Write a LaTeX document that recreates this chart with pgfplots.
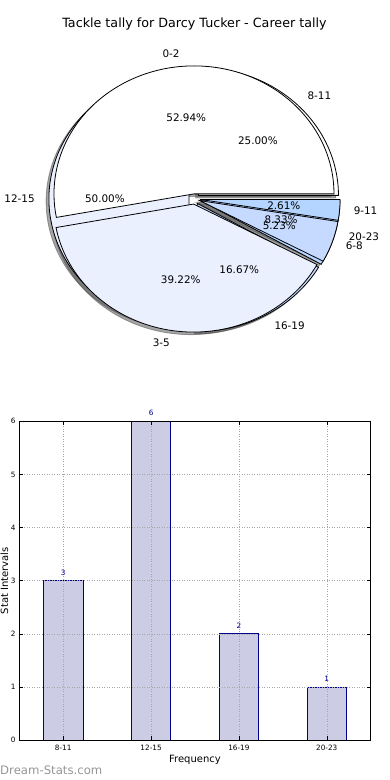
\documentclass[border=0pt]{standalone}
\usepackage{fontspec}
\setmainfont{DejaVu Sans}
\usepackage{pgfplots}
\pgfplotsset{compat=1.18}

\definecolor{cwhite}{RGB}{255,255,255}
\definecolor{cpale}{RGB}{235,240,255}
\definecolor{cmid}{RGB}{198,218,255}
\definecolor{clight}{RGB}{180,213,255}
\definecolor{shadowc}{RGB}{77,77,77}
\definecolor{barfill}{RGB}{204,204,229}
\definecolor{baredge}{RGB}{0,0,139}
\definecolor{wm}{RGB}{150,150,150}

% pie 1 (0-2, 3-5, 6-8, 9-11) percentages
\def\pA{52.94}\def\pB{39.22}\def\pC{5.23}\def\pD{2.61}
% pie 2 (8-11, 12-15, 16-19, 20-23) percentages
\def\qA{25.00}\def\qB{50.00}\def\qC{16.67}\def\qD{8.33}
\pgfmathsetmacro\pAB{\pA+\pB}\pgfmathsetmacro\pABC{\pA+\pB+\pC}
\pgfmathsetmacro\qAB{\qA+\qB}\pgfmathsetmacro\qABC{\qA+\qB+\qC}

\newcommand\pielabelfont{\fontsize{10.4}{12}\selectfont}
% #1 start %, #2 end %, #3 explode
\newcommand\pieshadow[3]{%
  \filldraw[fill=shadowc, draw=shadowc, fill opacity=0.5, draw opacity=0.5, line width=0.8pt]
    ({#3*cos(1.8*(#1+#2))-0.02},{#3*sin(1.8*(#1+#2))-0.02})
    -- ++({140pt*cos(3.6*#1)},{128pt*sin(3.6*#1)})
    arc[start angle={3.6*#1}, end angle={3.6*#2}, x radius=140pt, y radius=128pt] -- cycle;}
% #1 start %, #2 end %, #3 explode, #4 colour
\newcommand\piewedge[4]{%
  \filldraw[fill=#4, draw=black, line width=0.8pt, line join=miter]
    ({#3*cos(1.8*(#1+#2))},{#3*sin(1.8*(#1+#2))})
    -- ++({140pt*cos(3.6*#1)},{128pt*sin(3.6*#1)})
    arc[start angle={3.6*#1}, end angle={3.6*#2}, x radius=140pt, y radius=128pt] -- cycle;}
% #1 start, #2 end, #3 explode, #4 anchor, #5 text
\newcommand\pielabel[5]{%
  \node[anchor=#4, font=\pielabelfont, inner sep=0pt]
    at ({(#3+1.1)*cos(1.8*(#1+#2))},{(#3+1.1)*sin(1.8*(#1+#2))}) {#5};}
% #1 start, #2 end, #3 explode, #4 text
\newcommand\piepct[4]{%
  \node[anchor=center, font=\pielabelfont, inner sep=0pt]
    at ({(#3+0.6)*cos(1.8*(#1+#2))},{(#3+0.6)*sin(1.8*(#1+#2))}) {#4};}

\begin{document}
\begin{tikzpicture}
\path[use as bounding box] (0,0) rectangle (390pt,780pt);

\begin{axis}[at={(194.5pt,581pt)}, anchor=center, scale only axis,
  width=280pt, height=256pt, xmin=-1, xmax=1, ymin=-1, ymax=1,
  hide axis, clip=false,
  title={Tackle tally for Darcy Tucker - Career tally},
  title style={font=\fontsize{12.7}{15}\selectfont, at={(0.5,1)}, anchor=center, yshift=41pt, inner sep=0pt}]
  % shadows
  \pieshadow{0}{\qA}{0.04}
  \pieshadow{\qA}{\qAB}{0.04}
  \pieshadow{\qAB}{\qABC}{0.04}
  \pieshadow{\qABC}{100}{0.04}
  \pieshadow{0}{\pA}{0.04}
  \pieshadow{\pA}{\pAB}{0.04}
  \pieshadow{\pAB}{\pABC}{0.04}
  \pieshadow{\pABC}{100}{0.04}
  % wedges of pie 2
  \piewedge{0}{\qA}{0.04}{cwhite}
  \piewedge{\qA}{\qAB}{0.04}{cpale}
  \piewedge{\qAB}{\qABC}{0.04}{cmid}
  \piewedge{\qABC}{100}{0.04}{clight}
  % wedges of pie 1
  \piewedge{0}{\pA}{0.04}{cwhite}
  \piewedge{\pA}{\pAB}{0.04}{cpale}
  \piewedge{\pAB}{\pABC}{0.04}{cmid}
  \piewedge{\pABC}{100}{0.04}{clight}
  % labels of pie 2
  \pielabel{0}{\qA}{0.04}{west}{8-11}
  \pielabel{\qA}{\qAB}{0.04}{east}{12-15}
  \pielabel{\qAB}{\qABC}{0.04}{west}{16-19}
  \pielabel{\qABC}{100}{0.04}{west}{20-23}
  \piepct{0}{\qA}{0.04}{25.00\%}
  \piepct{\qA}{\qAB}{0.04}{50.00\%}
  \piepct{\qAB}{\qABC}{0.04}{16.67\%}
  \piepct{\qABC}{100}{0.04}{8.33\%}
  % labels of pie 1
  \pielabel{0}{\pA}{0.04}{east}{0-2}
  \pielabel{\pA}{\pAB}{0.04}{east}{3-5}
  \pielabel{\pAB}{\pABC}{0.04}{west}{6-8}
  \pielabel{\pABC}{100}{0.04}{west}{9-11}
  \piepct{0}{\pA}{0.04}{52.94\%}
  \piepct{\pA}{\pAB}{0.04}{39.22\%}
  \piepct{\pAB}{\pABC}{0.04}{5.23\%}
  \piepct{\pABC}{100}{0.04}{2.61\%}
\end{axis}

\begin{axis}[at={(19.3pt,40pt)}, anchor=south west, scale only axis,
  width=351.4pt, height=318.7pt,
  xmin=-0.5, xmax=3.5, ymin=0, ymax=6,
  xtick={0,1,2,3}, xticklabels={8-11,12-15,16-19,20-23},
  ytick={0,1,2,3,4,5,6},
  tick align=inside, major tick length=3.5pt,
  tick style={black, line width=0.5pt},
  axis line style={line width=0.8pt},
  grid=major, grid style={gray!70, line width=0.5pt, dash pattern=on 1pt off 1.5pt},
  axis on top,
  /pgf/number format/assume math mode=true,
  ticklabel style={font=\fontsize{7.3}{9}\selectfont, inner sep=0pt},
  xticklabel style={anchor=north, yshift=-4.5pt},
  yticklabel style={anchor=east, xshift=-3.5pt},
  xlabel={Frequency}, ylabel={Stat Intervals},
  label style={font=\fontsize{10}{12}\selectfont, inner sep=0pt},
  xlabel style={at={(axis description cs:0.5,-0.0628)}, anchor=center},
  ylabel style={at={(axis description cs:-0.0427,0.5)}, anchor=center},
  ]
  \addplot[ybar, bar width=0.45, fill=barfill, draw=baredge, line width=0.7pt,
    nodes near coords,
    nodes near coords style={font=\fontsize{7.3}{9}\selectfont, text=baredge, anchor=base, inner sep=0pt, yshift=5.5pt}]
    coordinates {(0,3) (1,6) (2,2) (3,1)};
\end{axis}

\node[anchor=west, inner sep=0pt, text=wm, font=\fontsize{11.7}{14}\selectfont] at (0pt,10pt) {Dream-Stats.com};
\end{tikzpicture}
\end{document}
